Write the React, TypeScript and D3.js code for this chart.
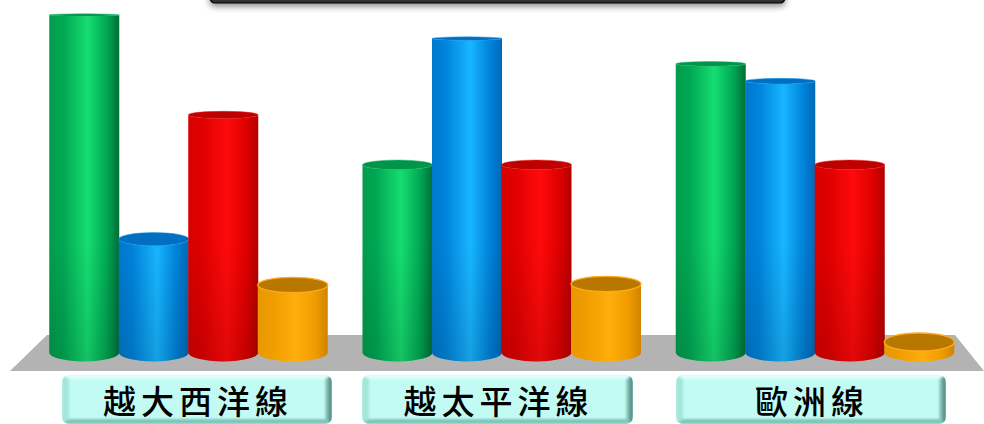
import React from "react";
import * as d3 from "d3";

const W = 984;
const H = 424;

// Route groups and the four series drawn in each of them
const routes = ["越大西洋線", "越太平洋線", "歐洲線"];
const seriesKeys = ["green", "blue", "red", "orange"];
const greenValues = [100, 55.6, 85.5];
const blueValues = [33.6, 93, 80.4];
const redValues = [70.4, 55.6, 55.6];
const orangeValues = [20, 20.3, 3.1];
const valuesBySeries = [greenValues, blueValues, redValues, orangeValues];

// left, shoulder, highlight, right, cap and rim tones for each cylinder
const palettes: Record<string, string[]> = {
  green: ["#009c4c", "#00a854", "#16dd70", "#006e36", "#00954a", "#10b860"],
  blue: ["#0078cc", "#0084dc", "#18b6ff", "#0068b6", "#006fc2", "#1098e8"],
  red: ["#d80000", "#e00000", "#ff0a0a", "#b40000", "#bd0000", "#f01010"],
  orange: ["#e89800", "#f09c00", "#ffae0c", "#d08400", "#b87800", "#ffa91c"],
};

const y = d3.scaleLinear().domain([0, 100]).range([352.5, 15]);
const xRoute = d3.scalePoint().domain(routes).range([188.5, 815]);
const xSeries = d3.scaleBand().domain(seriesKeys).range([-139, 139]);
// Caps flatten as the cylinders rise, as if seen from a low viewpoint
const capRy = d3.scaleLinear().domain([15, 342]).range([1.2, 9]);

const floor = d3.line()([
  [47, 335],
  [955, 335],
  [984, 371],
  [10, 371],
]) + "Z";

const buttons = [
  { x: 62, w: 270 },
  { x: 362, w: 271 },
  { x: 676, w: 270 },
];

function Cylinder({ route, series, value }: { route: string; series: string; value: number }) {
  const half = 35;
  const cx = (xRoute(route) as number) + (xSeries(series) as number) + xSeries.bandwidth() / 2;
  const top = y(value);
  const base = y(0);
  const ryTop = capRy(top);
  const ryBase = 9;
  const body = `M${cx - half},${top}L${cx - half},${base}A${half},${ryBase} 0 0 0 ${cx + half},${base}L${cx + half},${top}A${half},${ryTop} 0 0 1 ${cx - half},${top}Z`;
  return (
    <g>
      <path d={body} fill={`url(#side-${series})`} />
      {series !== "orange" && <path d={body} fill="url(#lower-shade)" />}
      <ellipse
        cx={cx}
        cy={top}
        rx={half}
        ry={ryTop}
        fill={palettes[series][4]}
        stroke={palettes[series][5]}
        strokeWidth={series === "orange" ? 1.4 : 0.5}
      />
    </g>
  );
}

function RouteButton({ label, x, w }: { label: string; x: number; w: number }) {
  const t = 375;
  const h = 49;
  const b = 7;
  const r = x + w;
  const bottom = t + h;
  const id = `clip-${x}`;
  return (
    <g>
      <clipPath id={id}>
        <rect x={x} y={t} width={w} height={h} rx={7} />
      </clipPath>
      <g clipPath={`url(#${id})`}>
        <rect x={x} y={t} width={w} height={h} fill="#c2fbf3" />
        <g filter="url(#bevel-soft)">
          <path d={`M${x},${t}L${r},${t}L${r - b},${t + 4}L${x + b},${t + 4}Z`} fill="#e0fffb" />
          <path d={`M${x},${t}L${x + b},${t + 4}L${x + b},${bottom - 5}L${x},${bottom}Z`} fill="#a4e6da" />
          <path d={`M${r},${t}L${r - b},${t + 4}L${r - b},${bottom - 5}L${r},${bottom}Z`} fill="url(#bevel-right)" />
          <path d={`M${x},${bottom}L${x + b},${bottom - 5}L${r - b},${bottom - 5}L${r},${bottom}Z`} fill="#7fc6b9" />
        </g>
      </g>
      <text
        x={x + w / 2 + 1}
        y={t + 39}
        textAnchor="middle"
        fontFamily="'Noto Sans CJK TC', 'Noto Sans CJK JP', sans-serif"
        fontSize={33}
        fontWeight={500}
        letterSpacing={5}
        fill="#000"
      >
        {label}
      </text>
    </g>
  );
}

export default function App() {
  return (
    <svg width={W} height={H} viewBox={`0 0 ${W} ${H}`} style={{ position: "absolute", left: 0, top: 0, display: "block", background: "#fff" }}>
      <defs>
        {seriesKeys.map((k) => {
          const [a, b, c, d] = palettes[k];
          return (
            <linearGradient key={k} id={`side-${k}`} x1="0" x2="1" y1="0" y2="0">
              <stop offset="0" stopColor={a} />
              <stop offset="0.2" stopColor={b} />
              <stop offset="0.55" stopColor={c} />
              <stop offset="0.82" stopColor={b} />
              <stop offset="1" stopColor={d} />
            </linearGradient>
          );
        })}
        <linearGradient id="lower-shade" gradientUnits="userSpaceOnUse" x1="0" x2="0" y1="240" y2="362">
          <stop offset="0" stopColor="#000" stopOpacity="0" />
          <stop offset="1" stopColor="#000" stopOpacity="0.12" />
        </linearGradient>
        <linearGradient id="bevel-right" x1="0" x2="1" y1="0" y2="0">
          <stop offset="0" stopColor="#9fdcd0" />
          <stop offset="1" stopColor="#3a7870" />
        </linearGradient>
        <filter id="bevel-soft" x="-2%" y="-10%" width="104%" height="120%">
          <feGaussianBlur stdDeviation="0.9" />
        </filter>
        <filter id="banner-shadow" x="-5%" y="-50%" width="110%" height="250%">
          <feDropShadow dx="0" dy="3" stdDeviation="3" floodColor="#000" floodOpacity="0.45" />
        </filter>
      </defs>

      <rect x={210} y={-20} width={575} height={23} rx={5} fill="#333" stroke="#000" strokeWidth={1.2} filter="url(#banner-shadow)" />

      <path d={floor} fill="#b3b3b3" />

      {routes.map((route, i) => (
        <g key={route}>
          {seriesKeys.map((s, j) => (
            <Cylinder key={s} route={route} series={s} value={valuesBySeries[j][i]} />
          ))}
        </g>
      ))}

      {routes.map((label, i) => (
        <RouteButton key={label} label={label} x={buttons[i].x} w={buttons[i].w} />
      ))}
    </svg>
  );
}
